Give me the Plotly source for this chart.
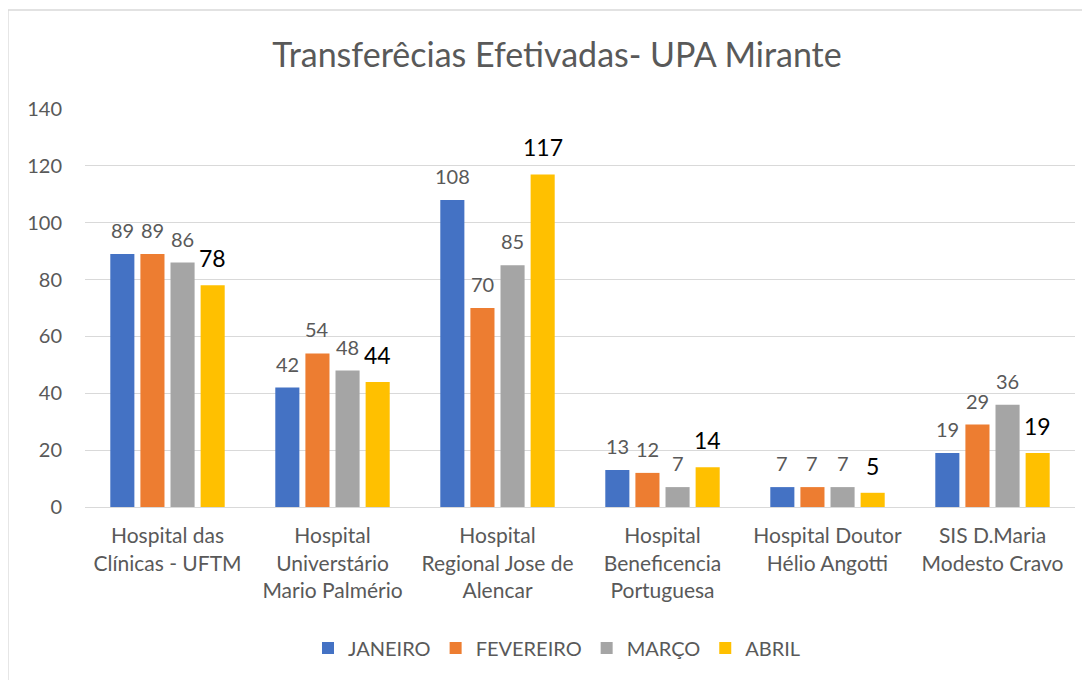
import plotly.graph_objects as go

categories = [
    "Hospital das<br>Clínicas - UFTM",
    "Hospital<br>Universtário<br>Mario Palmério",
    "Hospital<br>Regional Jose de<br>Alencar",
    "Hospital<br>Beneficencia<br>Portuguesa",
    "Hospital Doutor<br>Hélio Angotti",
    "SIS D.Maria<br>Modesto Cravo",
]
janeiro = [89, 42, 108, 13, 7, 19]
fevereiro = [89, 54, 70, 12, 7, 29]
marco = [86, 48, 85, 7, 7, 36]
abril = [78, 44, 117, 14, 5, 19]

series = [
    ("JANEIRO", janeiro, "#4472C4", "#595959", 20, 24),
    ("FEVEREIRO", fevereiro, "#ED7D31", "#595959", 20, 24),
    ("MARÇO", marco, "#A5A5A5", "#595959", 20, 24),
    ("ABRIL", abril, "#FFC000", "#000000", 23, 27),
]

FONT = "Lato"

# page body has an 8px margin, so work in shifted pixel coordinates
OFF = 8
W, H = 1090 - OFF, 680 - OFF
L, T = 85 - OFF, 109 - OFF
PR, PB = 1075 - OFF, 507 - OFF
R, B = W - PR, H - PB
pw, ph = PR - L, PB - T
BARGAP, GROUPGAP = 0.27, 0.2
slot = (1 - BARGAP) * (pw / len(categories)) / len(series)

def px(x):
    return (x - OFF - L) / pw

def py(y):
    return (PB - (y - OFF)) / ph

fig = go.Figure()
annotations = []
n = len(series)
for i, (name, vals, color, tcolor, tsize, lift) in enumerate(series):
    fig.add_trace(go.Bar(
        name=name, x=categories, y=vals, marker_color=color,
        marker_line_width=0,
    ))
    for c, v in zip(categories, vals):
        annotations.append(dict(
            x=c, y=v, xref="x", yref="y", text=str(v), showarrow=False,
            xshift=(i - (n - 1) / 2) * slot, yshift=lift, yanchor="middle",
            font=dict(color=tcolor, size=tsize, family=FONT),
        ))

fig.update_layout(
    width=W, height=H,
    margin=dict(l=L, r=R, t=T, b=B, autoexpand=False),
    paper_bgcolor="white", plot_bgcolor="white",
    barmode="group", bargap=BARGAP, bargroupgap=GROUPGAP,
    font=dict(family=FONT, color="#595959", size=20),
    title=dict(text="Transferêcias Efetivadas- UPA Mirante", x=px(557), xanchor="center",
               xref="paper", y=1 - (55 - OFF) / H, yanchor="middle",
               font=dict(size=34, color="#595959", family=FONT)),
    legend=dict(orientation="h", x=px(557), xanchor="center", y=py(648), yanchor="middle",
                font=dict(size=20, color="#595959", family=FONT),
                itemsizing="constant", traceorder="normal", itemwidth=30),
    showlegend=True,
    annotations=annotations,
    yaxis=dict(range=[0, 140], dtick=20, showgrid=True, gridcolor="#D9D9D9", gridwidth=1.3,
               zeroline=False, showline=False, tickfont=dict(size=20, color="#595959"),
               ticks="", ticklabelstandoff=22, fixedrange=True, automargin=False),
    xaxis=dict(showline=True, linecolor="#D9D9D9", linewidth=1.3, ticks="",
               tickfont=dict(size=21, color="#595959"), tickangle=0, fixedrange=True,
               automargin=False, ticklabelstandoff=10),
)
fig.add_shape(type="rect", xref="paper", yref="paper",
              x0=px(8), x1=px(1100), y0=py(690), y1=py(10),
              line=dict(color="#D9D9D9", width=1.3), fillcolor="rgba(0,0,0,0)", layer="below")

fig.write_html("out.html")
